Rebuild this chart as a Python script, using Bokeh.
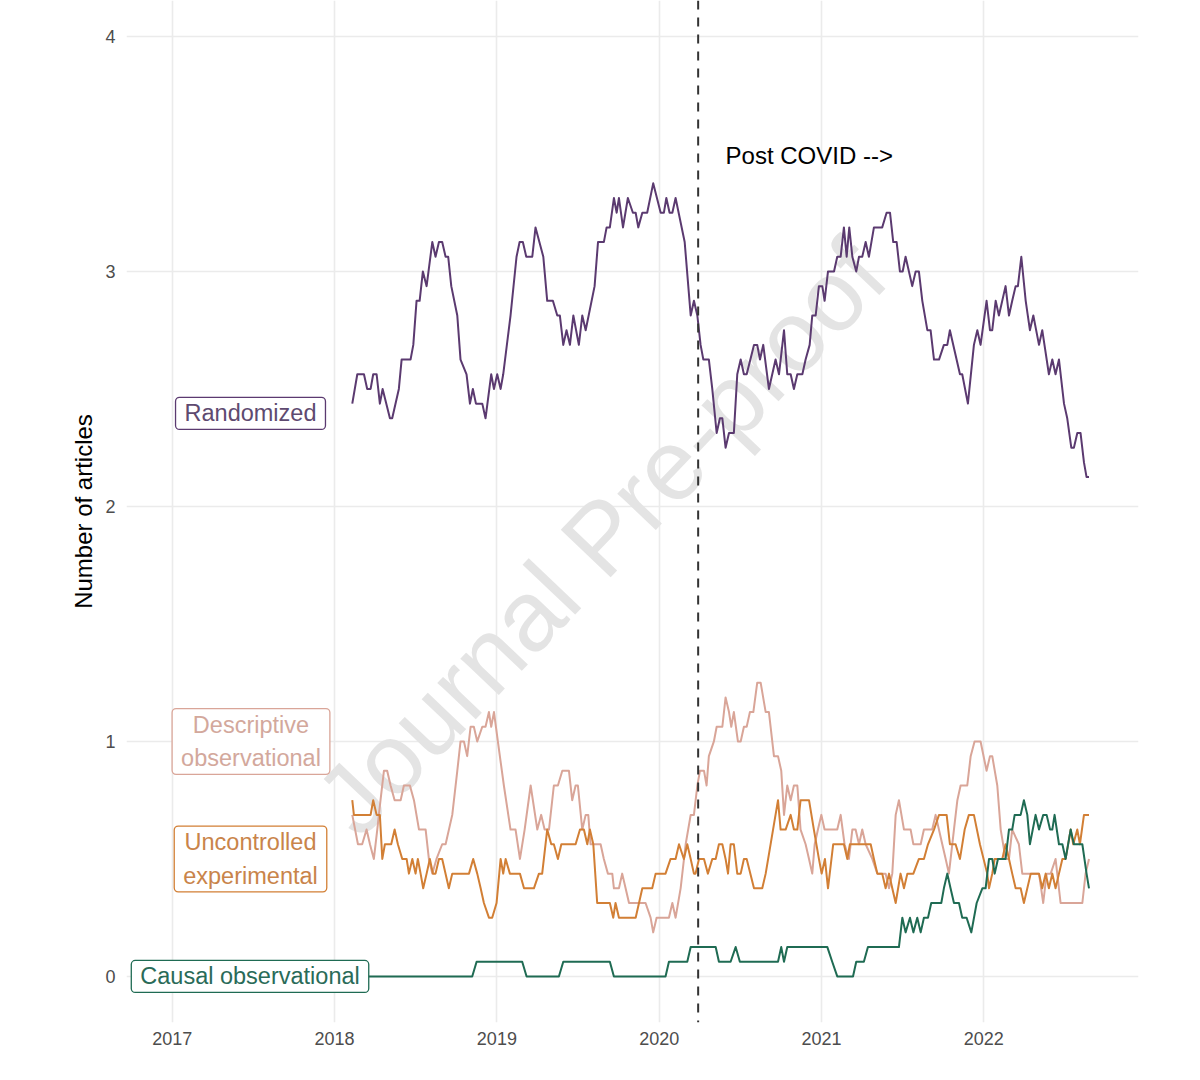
from bokeh.plotting import figure
from bokeh.models import Label, Span, Range1d, FixedTicker
from bokeh.embed import file_html
from bokeh.resources import INLINE

# ---------------- data ----------------
year_ticks = [2017, 2018, 2019, 2020, 2021, 2022]
year_labels = ["2017", "2018", "2019", "2020", "2021", "2022"]
count_ticks = [0, 1, 2, 3, 4]

covid_start = 2020.24

rand_x = [2018.109, 2018.140, 2018.181, 2018.201, 2018.222, 2018.238, 2018.259, 2018.279, 2018.296, 2018.341,
          2018.355, 2018.396, 2018.413, 2018.468, 2018.485, 2018.505, 2018.524, 2018.544, 2018.567, 2018.602,
          2018.622, 2018.643, 2018.663, 2018.684, 2018.700, 2018.719, 2018.756, 2018.776, 2018.813, 2018.834,
          2018.852, 2018.871, 2018.910, 2018.930, 2018.965, 2018.982, 2019.002, 2019.023, 2019.039, 2019.084,
          2019.121, 2019.140, 2019.160, 2019.181, 2019.218, 2019.238, 2019.286, 2019.310, 2019.345, 2019.372,
          2019.388, 2019.409, 2019.429, 2019.450, 2019.471, 2019.505, 2019.526, 2019.547, 2019.602, 2019.623,
          2019.659, 2019.676, 2019.696, 2019.721, 2019.738, 2019.752, 2019.777, 2019.807, 2019.838, 2019.855,
          2019.871, 2019.896, 2019.926, 2019.963, 2020.009, 2020.029, 2020.044, 2020.064, 2020.081, 2020.101,
          2020.157, 2020.194, 2020.214, 2020.235, 2020.255, 2020.272, 2020.306, 2020.327, 2020.354, 2020.374,
          2020.389, 2020.409, 2020.430, 2020.460, 2020.481, 2020.502, 2020.522, 2020.539, 2020.584, 2020.604,
          2020.621, 2020.641, 2020.676, 2020.717, 2020.738, 2020.769, 2020.789, 2020.810, 2020.830, 2020.851,
          2020.882, 2020.902, 2020.927, 2020.943, 2020.964, 2020.984, 2021.005, 2021.019, 2021.040, 2021.077,
          2021.097, 2021.118, 2021.138, 2021.155, 2021.171, 2021.190, 2021.214, 2021.231, 2021.251, 2021.272,
          2021.292, 2021.323, 2021.374, 2021.401, 2021.422, 2021.442, 2021.463, 2021.483, 2021.500, 2021.518,
          2021.559, 2021.580, 2021.600, 2021.621, 2021.652, 2021.672, 2021.693, 2021.724, 2021.754, 2021.775,
          2021.791, 2021.853, 2021.867, 2021.902, 2021.939, 2021.960, 2021.980, 2022.017, 2022.038, 2022.052,
          2022.073, 2022.093, 2022.134, 2022.155, 2022.175, 2022.196, 2022.210, 2022.231, 2022.258, 2022.284,
          2022.305, 2022.340, 2022.360, 2022.401, 2022.422, 2022.442, 2022.463, 2022.494, 2022.514, 2022.539,
          2022.555, 2022.576, 2022.596, 2022.617, 2022.633, 2022.648]
rand_y = [2.4375, 2.5625, 2.5625, 2.5, 2.5, 2.5625, 2.5625, 2.4375, 2.5, 2.375,
          2.375, 2.5, 2.625, 2.625, 2.6875, 2.875, 2.875, 3.0, 2.9375, 3.125,
          3.0625, 3.125, 3.125, 3.0625, 3.0625, 2.9375, 2.8125, 2.625, 2.5625, 2.4375,
          2.5, 2.4375, 2.4375, 2.375, 2.5625, 2.5, 2.5625, 2.5, 2.5625, 2.8125,
          3.0625, 3.125, 3.125, 3.0625, 3.0625, 3.1875, 3.0625, 2.875, 2.875, 2.8125,
          2.8125, 2.6875, 2.75, 2.6875, 2.8125, 2.6875, 2.8125, 2.75, 2.9375, 3.125,
          3.125, 3.1875, 3.1875, 3.3125, 3.25, 3.3125, 3.1875, 3.3125, 3.25, 3.25,
          3.1875, 3.25, 3.25, 3.375, 3.25, 3.25, 3.3125, 3.25, 3.25, 3.3125,
          3.125, 2.8125, 2.875, 2.8125, 2.6875, 2.625, 2.625, 2.5, 2.3125, 2.375,
          2.375, 2.25, 2.3125, 2.3125, 2.5625, 2.625, 2.5625, 2.5625, 2.6875, 2.6875,
          2.625, 2.6875, 2.5, 2.625, 2.5625, 2.75, 2.5625, 2.5625, 2.5, 2.5625,
          2.5625, 2.625, 2.6875, 2.8125, 2.8125, 2.9375, 2.9375, 2.875, 3.0, 3.0,
          3.0625, 3.0625, 3.1875, 3.0625, 3.1875, 3.0625, 3.0, 3.0625, 3.0625, 3.125,
          3.0625, 3.1875, 3.1875, 3.25, 3.25, 3.125, 3.125, 3.0, 3.0, 3.0625,
          2.9375, 3.0, 3.0, 2.875, 2.75, 2.75, 2.625, 2.625, 2.6875, 2.6875,
          2.75, 2.5625, 2.5625, 2.4375, 2.6875, 2.75, 2.6875, 2.875, 2.75, 2.75,
          2.875, 2.8125, 2.9375, 2.8125, 2.875, 2.9375, 2.9375, 3.0625, 2.875, 2.75,
          2.8125, 2.6875, 2.75, 2.5625, 2.625, 2.5625, 2.625, 2.4375, 2.375, 2.25,
          2.25, 2.3125, 2.3125, 2.1875, 2.125, 2.125]

desc_x = [2018.109, 2018.144, 2018.170, 2018.197, 2018.218, 2018.242, 2018.263, 2018.283, 2018.304, 2018.324,
          2018.345, 2018.370, 2018.407, 2018.427, 2018.464, 2018.489, 2018.520, 2018.561, 2018.581, 2018.602,
          2018.628, 2018.663, 2018.684, 2018.725, 2018.756, 2018.776, 2018.797, 2018.817, 2018.838, 2018.858,
          2018.879, 2018.910, 2018.930, 2018.951, 2018.965, 2018.982, 2019.006, 2019.043, 2019.084, 2019.115,
          2019.142, 2019.171, 2019.208, 2019.249, 2019.273, 2019.294, 2019.321, 2019.351, 2019.376, 2019.403,
          2019.444, 2019.464, 2019.485, 2019.499, 2019.526, 2019.547, 2019.563, 2019.577, 2019.598, 2019.639,
          2019.659, 2019.684, 2019.711, 2019.721, 2019.752, 2019.772, 2019.793, 2019.814, 2019.916, 2019.947,
          2019.963, 2019.984, 2020.060, 2020.081, 2020.101, 2020.132, 2020.163, 2020.194, 2020.214, 2020.235,
          2020.251, 2020.276, 2020.292, 2020.306, 2020.337, 2020.354, 2020.389, 2020.409, 2020.430, 2020.444,
          2020.460, 2020.485, 2020.502, 2020.522, 2020.539, 2020.559, 2020.580, 2020.604, 2020.625, 2020.656,
          2020.676, 2020.707, 2020.732, 2020.752, 2020.769, 2020.789, 2020.810, 2020.830, 2020.851, 2020.871,
          2020.902, 2020.923, 2020.943, 2020.958, 2020.978, 2020.999, 2021.019, 2021.097, 2021.118, 2021.142,
          2021.169, 2021.190, 2021.210, 2021.231, 2021.251, 2021.272, 2021.313, 2021.344, 2021.395, 2021.416,
          2021.436, 2021.457, 2021.477, 2021.508, 2021.549, 2021.566, 2021.611, 2021.631, 2021.682, 2021.703,
          2021.744, 2021.765, 2021.785, 2021.816, 2021.837, 2021.857, 2021.898, 2021.919, 2021.943, 2021.980,
          2022.017, 2022.038, 2022.052, 2022.083, 2022.104, 2022.134, 2022.155, 2022.175, 2022.216, 2022.237,
          2022.258, 2022.340, 2022.366, 2022.387, 2022.412, 2022.442, 2022.473, 2022.607, 2022.627, 2022.648]
desc_y = [0.6875, 0.5625, 0.5625, 0.625, 0.5625, 0.5, 0.625, 0.75, 0.875, 0.875,
          0.8125, 0.75, 0.75, 0.8125, 0.8125, 0.75, 0.625, 0.625, 0.5, 0.4375,
          0.5, 0.5625, 0.5625, 0.6875, 0.875, 1.0, 1.0, 0.9375, 1.0625, 1.0625,
          1.0, 1.0625, 1.0625, 1.125, 1.0625, 1.125, 1.0, 0.8125, 0.625, 0.625,
          0.5, 0.625, 0.8125, 0.625, 0.6875, 0.625, 0.625, 0.8125, 0.8125, 0.875,
          0.875, 0.75, 0.8125, 0.8125, 0.625, 0.6875, 0.6875, 0.5625, 0.5625, 0.5625,
          0.5, 0.4375, 0.4375, 0.375, 0.375, 0.4375, 0.375, 0.3125, 0.3125, 0.25,
          0.1875, 0.25, 0.25, 0.3125, 0.25, 0.375, 0.5625, 0.6875, 0.6875, 0.8125,
          0.875, 0.875, 0.8125, 0.9375, 1.0, 1.0625, 1.0625, 1.1875, 1.125, 1.0625,
          1.125, 1.0, 1.0, 1.0625, 1.0625, 1.125, 1.125, 1.25, 1.25, 1.125,
          1.125, 0.9375, 0.9375, 0.875, 0.6875, 0.8125, 0.75, 0.8125, 0.8125, 0.625,
          0.5625, 0.5, 0.4375, 0.5625, 0.625, 0.6875, 0.625, 0.625, 0.6875, 0.5625,
          0.5, 0.625, 0.625, 0.5625, 0.625, 0.5625, 0.5, 0.4375, 0.4375, 0.375,
          0.4375, 0.6875, 0.75, 0.625, 0.625, 0.5625, 0.5625, 0.625, 0.625, 0.6875,
          0.5625, 0.5, 0.4375, 0.625, 0.75, 0.8125, 0.8125, 0.9375, 1.0, 1.0,
          0.875, 0.9375, 0.9375, 0.8125, 0.625, 0.5, 0.5, 0.625, 0.5625, 0.4375,
          0.4375, 0.4375, 0.3125, 0.4375, 0.4375, 0.5, 0.3125, 0.3125, 0.4375, 0.5]

unc_x = [2018.109, 2018.119, 2018.222, 2018.238, 2018.259, 2018.279, 2018.294, 2018.310, 2018.349, 2018.370,
         2018.390, 2018.417, 2018.444, 2018.458, 2018.479, 2018.499, 2018.513, 2018.530, 2018.546, 2018.567,
         2018.587, 2018.606, 2018.622, 2018.643, 2018.663, 2018.704, 2018.725, 2018.828, 2018.854, 2018.879,
         2018.900, 2018.920, 2018.951, 2018.971, 2018.998, 2019.023, 2019.039, 2019.054, 2019.080, 2019.142,
         2019.167, 2019.228, 2019.259, 2019.279, 2019.310, 2019.335, 2019.351, 2019.376, 2019.397, 2019.485,
         2019.512, 2019.536, 2019.557, 2019.573, 2019.594, 2019.618, 2019.696, 2019.717, 2019.731, 2019.752,
         2019.855, 2019.896, 2019.957, 2019.978, 2020.039, 2020.070, 2020.101, 2020.122, 2020.152, 2020.173,
         2020.194, 2020.214, 2020.224, 2020.245, 2020.276, 2020.300, 2020.327, 2020.348, 2020.368, 2020.389,
         2020.409, 2020.424, 2020.440, 2020.460, 2020.481, 2020.502, 2020.522, 2020.539, 2020.584, 2020.635,
         2020.656, 2020.732, 2020.748, 2020.779, 2020.810, 2020.830, 2020.851, 2020.871, 2020.923, 2020.953,
         2020.984, 2021.001, 2021.021, 2021.040, 2021.072, 2021.138, 2021.159, 2021.175, 2021.303, 2021.323,
         2021.344, 2021.374, 2021.395, 2021.416, 2021.436, 2021.457, 2021.487, 2021.508, 2021.529, 2021.566,
         2021.600, 2021.631, 2021.656, 2021.693, 2021.724, 2021.771, 2021.791, 2021.826, 2021.853, 2021.882,
         2021.908, 2021.939, 2021.976, 2022.021, 2022.032, 2022.052, 2022.067, 2022.114, 2022.134, 2022.155,
         2022.175, 2022.196, 2022.227, 2022.247, 2022.268, 2022.289, 2022.340, 2022.360, 2022.381, 2022.401,
         2022.422, 2022.442, 2022.463, 2022.484, 2022.504, 2022.535, 2022.551, 2022.576, 2022.592, 2022.617,
         2022.648]
unc_y = [0.75, 0.6875, 0.6875, 0.75, 0.6875, 0.6875, 0.5, 0.5625, 0.5625, 0.625,
         0.5625, 0.5, 0.5, 0.4375, 0.5, 0.4375, 0.5, 0.4375, 0.375, 0.4375,
         0.5, 0.4375, 0.4375, 0.5, 0.5, 0.375, 0.4375, 0.4375, 0.5, 0.4375,
         0.375, 0.3125, 0.25, 0.25, 0.3125, 0.5, 0.4375, 0.5, 0.4375, 0.4375,
         0.375, 0.375, 0.4375, 0.4375, 0.625, 0.5625, 0.5625, 0.5, 0.5625, 0.5625,
         0.625, 0.625, 0.5625, 0.625, 0.5625, 0.3125, 0.3125, 0.25, 0.3125, 0.25,
         0.25, 0.375, 0.375, 0.4375, 0.4375, 0.5, 0.5, 0.5625, 0.5, 0.5625,
         0.5, 0.4375, 0.4375, 0.5, 0.5, 0.4375, 0.5, 0.5, 0.5625, 0.5625,
         0.5, 0.4375, 0.5625, 0.5625, 0.4375, 0.4375, 0.5, 0.5, 0.375, 0.375,
         0.4375, 0.75, 0.625, 0.625, 0.6875, 0.625, 0.625, 0.75, 0.75, 0.625,
         0.5, 0.4375, 0.5, 0.375, 0.5625, 0.5625, 0.5, 0.5625, 0.5625, 0.5,
         0.4375, 0.4375, 0.375, 0.4375, 0.375, 0.3125, 0.4375, 0.375, 0.4375, 0.4375,
         0.5, 0.5, 0.5625, 0.625, 0.6875, 0.6875, 0.5625, 0.5625, 0.5, 0.625,
         0.6875, 0.6875, 0.5625, 0.4375, 0.375, 0.4375, 0.5, 0.5, 0.5625, 0.5,
         0.4375, 0.375, 0.375, 0.3125, 0.375, 0.4375, 0.4375, 0.375, 0.4375, 0.375,
         0.4375, 0.375, 0.4375, 0.5, 0.5, 0.625, 0.5625, 0.625, 0.5625, 0.6875,
         0.6875]

caus_x = [2018.109, 2018.848, 2018.875, 2019.156, 2019.183, 2019.382, 2019.409, 2019.696, 2019.721, 2020.039,
          2020.060, 2020.173, 2020.194, 2020.348, 2020.368, 2020.440, 2020.471, 2020.497, 2020.732, 2020.752,
          2020.769, 2020.789, 2021.036, 2021.066, 2021.097, 2021.194, 2021.214, 2021.261, 2021.286, 2021.477,
          2021.498, 2021.518, 2021.545, 2021.566, 2021.590, 2021.611, 2021.631, 2021.656, 2021.676, 2021.738,
          2021.754, 2021.775, 2021.795, 2021.816, 2021.847, 2021.867, 2021.894, 2021.923, 2021.956, 2021.991,
          2022.011, 2022.032, 2022.052, 2022.067, 2022.087, 2022.134, 2022.155, 2022.175, 2022.190, 2022.227,
          2022.247, 2022.268, 2022.284, 2022.319, 2022.340, 2022.366, 2022.387, 2022.408, 2022.422, 2022.436,
          2022.463, 2022.484, 2022.504, 2022.535, 2022.555, 2022.607, 2022.633, 2022.648]
caus_y = [0.0, 0.0, 0.0625, 0.0625, 0.0, 0.0, 0.0625, 0.0625, 0.0, 0.0,
          0.0625, 0.0625, 0.125, 0.125, 0.0625, 0.0625, 0.125, 0.0625, 0.0625, 0.125,
          0.0625, 0.125, 0.125, 0.0625, 0.0, 0.0, 0.0625, 0.0625, 0.125, 0.125,
          0.25, 0.1875, 0.25, 0.1875, 0.25, 0.1875, 0.25, 0.25, 0.3125, 0.3125,
          0.375, 0.4375, 0.375, 0.3125, 0.3125, 0.25, 0.25, 0.1875, 0.3125, 0.375,
          0.375, 0.5, 0.5, 0.4375, 0.5, 0.5, 0.625, 0.625, 0.6875, 0.6875,
          0.75, 0.6875, 0.5625, 0.6875, 0.625, 0.6875, 0.6875, 0.625, 0.625, 0.6875,
          0.5625, 0.5625, 0.5, 0.625, 0.5625, 0.5625, 0.4375, 0.375]

series_names = ["Descriptive\nobservational", "Uncontrolled\nexperimental", "Causal observational", "Randomized"]
line_colors = ["#d9a598", "#d27f35", "#1f6b53", "#5b3a70"]
label_text_colors = ["#d3a89c", "#c9844a", "#2a6b58", "#5e4a70"]
label_pos_x = [2017.485, 2017.482, 2017.479, 2017.482]
label_pos_y = [1.0, 0.5, 0.0, 2.396]

# ---------------- figure ----------------
FONT = "Liberation Sans"

p = figure(frame_width=1012, frame_height=1022, output_backend="svg", toolbar_location=None,
           x_range=Range1d(2016.718, 2022.953), y_range=Range1d(-0.196, 4.153),
           min_border_left=126, min_border_right=40, min_border_top=0, min_border_bottom=36)
p.outline_line_color = None
p.background_fill_color = "white"
p.border_fill_color = "white"

for ax in (p.xaxis[0], p.yaxis[0]):
    ax.axis_line_color = None
    ax.major_tick_line_color = None
    ax.minor_tick_line_color = None
    ax.major_tick_out = 0
    ax.major_tick_in = 0
    ax.minor_tick_out = 0
    ax.minor_tick_in = 0
    ax.major_label_text_font = FONT
    ax.major_label_text_font_size = "18px"
    ax.major_label_text_color = "#4d4d4d"

p.xaxis.ticker = FixedTicker(ticks=year_ticks)
p.xaxis.major_label_overrides = {t: l for t, l in zip(year_ticks, year_labels)}
p.xaxis.major_label_standoff = 9
p.yaxis.ticker = FixedTicker(ticks=count_ticks)
p.yaxis.major_label_standoff = 11
p.yaxis.axis_label = "Number of articles"
p.yaxis.axis_label_text_font = FONT
p.yaxis.axis_label_text_font_size = "24px"
p.yaxis.axis_label_text_font_style = "normal"
p.yaxis.axis_label_text_color = "black"
p.yaxis.axis_label_standoff = 5

p.xgrid.grid_line_color = "#ebebeb"
p.ygrid.grid_line_color = "#ebebeb"
p.xgrid.grid_line_width = 1.6
p.ygrid.grid_line_width = 1.6

# watermark
p.add_layout(Label(x=2019.64, y=1.87, text="Journal Pre-proof", angle=0.81,
                   text_font=FONT, text_font_size="100px", text_color="#e4e4e4",
                   text_align="center", text_baseline="middle", level="underlay"))

xs = [desc_x, unc_x, caus_x, rand_x]
ys = [desc_y, unc_y, caus_y, rand_y]
for x, y, c in zip(xs, ys, line_colors):
    p.line(x, y, line_color=c, line_width=2, line_join="round")

p.add_layout(Span(location=covid_start, dimension="height", line_color="#333333",
                  line_width=2, line_dash="9 8"))
p.add_layout(Label(x=2020.409, y=3.494, text="Post COVID -->", text_font=FONT,
                   text_font_size="24px", text_color="black",
                   text_align="left", text_baseline="middle"))

for name, lc, tc, lx, ly in zip(series_names, line_colors, label_text_colors, label_pos_x, label_pos_y):
    p.add_layout(Label(x=lx, y=ly, text=name, text_font=FONT, text_font_size="23.5px",
                       text_color=tc, text_align="center", text_baseline="middle",
                       text_line_height=1.3,
                       background_fill_color="white", border_line_color=lc,
                       border_line_width=1.3, border_radius=4, padding=(9, 3)))

open("out.html", "w").write(file_html(p, INLINE))
